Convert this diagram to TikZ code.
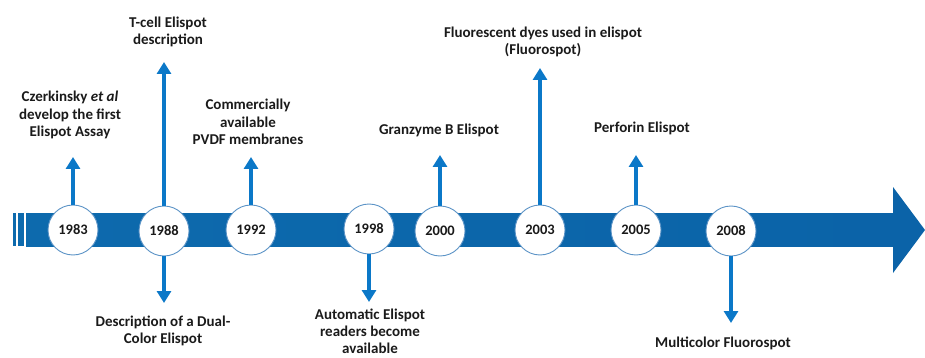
\documentclass[tikz,border=0pt]{standalone}
\usepackage{fontspec}
\setmainfont{Carlito}
\usetikzlibrary{arrows.meta}
\definecolor{bandL}{HTML}{0D6AAD}
\definecolor{bandM}{HTML}{0A89CF}
\definecolor{bandR}{HTML}{0B63A8}
\definecolor{arr}{HTML}{0B78C8}
\definecolor{ring}{HTML}{5B93C6}
\definecolor{txt}{HTML}{1A1A1A}
\tikzset{
 year/.style={circle, draw=ring, line width=0.9pt, fill=white, minimum size=50pt, inner sep=0pt, text=txt, font=\bfseries\fontsize{14.5}{16}\selectfont},
 evarrow/.style={draw=arr, line width=4pt, -{Triangle[width=14pt,length=12pt]}},
 lbl/.style={align=center, inner sep=0pt, text=txt, font=\bfseries\fontsize{15}{17.5}\selectfont},
}
\begin{document}
\begin{tikzpicture}[x=1pt,y=-1pt]
\useasboundingbox (0,0) rectangle (925,358);
% band
\fill[bandL] (13,213) rectangle (15.7,246);
\fill[bandL] (17.7,213) rectangle (24,246);
\shade[left color=bandL, middle color=bandM, right color=bandR] (26,213) rectangle (894,246);
\fill[bandR] (893,187) -- (925,230) -- (893,273) -- cycle;
% circles
\node[year] (c1983) at (73,230) {1983};
\node[year] (c1988) at (164,231) {1988};
\node[year] (c1992) at (251,230) {1992};
\node[year] (c1998) at (369,229) {1998};
\node[year] (c2000) at (440,231) {2000};
\node[year] (c2003) at (540,230) {2003};
\node[year] (c2005) at (636,230) {2005};
\node[year] (c2008) at (731,231) {2008};
% arrow ends
\coordinate (t1983) at (73,157);
\coordinate (t1988u) at (164,62);
\coordinate (t1988d) at (164,303);
\coordinate (t1992) at (251,157);
\coordinate (t1998) at (369,302);
\coordinate (t2000) at (440,155);
\coordinate (t2003) at (540,68);
\coordinate (t2005) at (636,155);
\coordinate (t2008) at (731,323);
% arrows
\draw[evarrow] (c1983.north) -- (t1983);
\draw[evarrow] (c1988.north) -- (t1988u);
\draw[evarrow] (c1988.south) -- (t1988d);
\draw[evarrow] (c1992.north) -- (t1992);
\draw[evarrow] (c1998.south) -- (t1998);
\draw[evarrow] (c2000.north) -- (t2000);
\draw[evarrow] (c2003.north) -- (t2003);
\draw[evarrow] (c2005.north) -- (t2005);
\draw[evarrow] (c2008.south) -- (t2008);
% labels
\node[lbl] (l1983) at (70,115) {Czerkinsky \textit{et al}\\develop the first\\Elispot Assay};
\node[lbl] (l1988u) at (168,32) {T-cell Elispot\\description};
\node[lbl] (l1992) at (248,122) {Commercially\\available\\PVDF membranes};
\node[lbl] (l2000) at (439,130) {Granzyme B Elispot};
\node[lbl] (l2003) at (543,42) {Fluorescent dyes used in elispot\\(Fluorospot)};
\node[lbl] (l2005) at (642,128) {Perforin Elispot};
\node[lbl] (l1988d) at (163,331) {Description of a Dual-\\Color Elispot};
\node[lbl, font=\bfseries\fontsize{15}{17}\selectfont] (l1998) at (370,331) {Automatic Elispot\\readers become\\available};
\node[lbl] (l2008) at (723,343) {Multicolor Fluorospot};
\end{tikzpicture}
\end{document}
